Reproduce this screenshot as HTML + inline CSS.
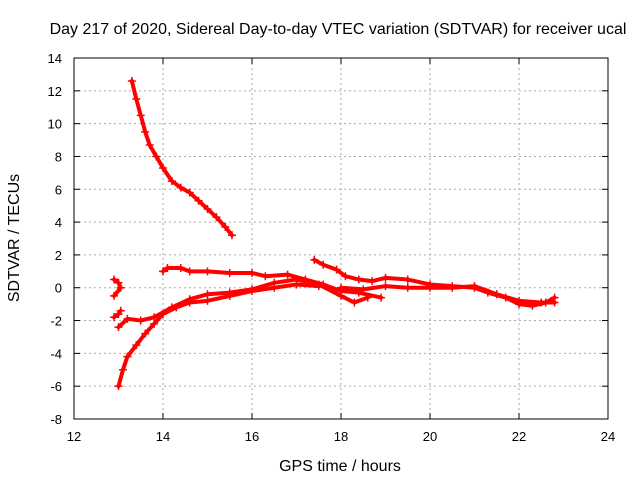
<!DOCTYPE html>
<html><head><meta charset="utf-8"><style>
body{margin:0;background:#fff}
svg text{font-family:"Liberation Sans",sans-serif;font-size:13px;fill:#000}
svg text.big{font-size:16px}
</style></head><body>
<svg id="chart" width="640" height="480">
<text class="big" x="338" y="34" text-anchor="middle">Day 217 of 2020, Sidereal Day-to-day VTEC variation (SDTVAR) for receiver ucal</text>
<text class="big" x="340" y="471" text-anchor="middle">GPS time / hours</text>
<text class="big" transform="translate(19,238) rotate(-90)" text-anchor="middle">SDTVAR / TECUs</text>
<g id="grid"></g><g id="ticks"></g><g id="series"></g>
<rect x="74" y="58" width="534" height="361" fill="none" stroke="#000"/>
</svg>
<script>
const xTicks=[12,14,16,18,20,22,24];
const yTicks=[-8,-6,-4,-2,0,2,4,6,8,10,12,14];
const trackA=[[13.3,12.6],[13.4,11.5],[13.5,10.5],[13.6,9.5],[13.7,8.7],[13.85,8],[14,7.3],[14.2,6.5],[14.4,6.1],[14.6,5.8],[14.8,5.3],[15,4.8],[15.2,4.3],[15.4,3.7],[15.55,3.2]];
const trackB=[[14,1],[14.1,1.2],[14.4,1.2],[14.6,1.0],[15,1.0],[15.5,0.9],[16,0.9],[16.3,0.7],[16.8,0.8],[17.2,0.5],[17.6,0.2],[18,-0.2],[18.4,-0.3],[18.9,-0.6]];
const trackC=[[13,-6],[13.1,-5],[13.2,-4.2],[13.4,-3.5],[13.6,-2.8],[13.8,-2.2],[14,-1.6],[14.3,-1.2],[14.6,-0.9],[15,-0.8],[15.5,-0.5],[16,-0.2],[16.5,0],[17,0.2],[17.5,0.1]];
const trackD=[[13,-2.4],[13.2,-1.9],[13.5,-2],[13.8,-1.8],[14.2,-1.2],[14.6,-0.7],[15,-0.4],[15.5,-0.3],[16,-0.1],[16.5,0.3],[17,0.5],[17.5,0.2],[18,-0.5],[18.3,-0.9],[18.6,-0.6]];
const trackE=[[17.4,1.7],[17.6,1.4],[17.9,1.1],[18.1,0.7],[18.4,0.5],[18.7,0.4],[19,0.6],[19.5,0.5],[20,0.2],[20.5,0.1],[21,0],[21.3,-0.3],[21.7,-0.6],[22,-1.0],[22.3,-1.1],[22.6,-0.9],[22.8,-0.6]];
const trackF=[[18,0.0],[18.5,-0.1],[19,0.1],[19.5,0.0],[20,0.0],[20.5,0.0],[21,0.1],[21.5,-0.4],[22,-0.8],[22.5,-0.9],[22.8,-0.9]];
const trackG=[[12.9,0.5],[13,0.3],[13.05,0.0],[12.9,-0.5]];
const trackH=[[12.9,-1.8],[13,-1.6],[13.05,-1.4]];
const tracks=[trackA,trackB,trackC,trackD,trackE,trackF,trackG,trackH];
const X=v=>74+(v-12)/12*534, Y=v=>419-(v+8)/22*361;
const NS="http://www.w3.org/2000/svg";
const g=document.getElementById('grid'),t=document.getElementById('ticks'),s=document.getElementById('series');
function mk(tag,a,p){const e=document.createElementNS(NS,tag);for(const k in a)e.setAttribute(k,a[k]);p.appendChild(e);return e;}
xTicks.forEach(v=>{const x=X(v);
 if(v>12&&v<24){const l=mk('line',{x1:x,x2:x,y1:58,y2:419,stroke:'#aaa','stroke-dasharray':'2,3'},g);
 
 }
 const tx=mk('text',{x:x,y:441,'text-anchor':'middle'},t);tx.textContent=v;
 
 
 mk('line',{x1:x,x2:x,y1:419,y2:413,stroke:'#000'},t);mk('line',{x1:x,x2:x,y1:58,y2:64,stroke:'#000'},t);});
yTicks.forEach(v=>{const y=Y(v);
 if(v>-8&&v<14){const l=mk('line',{x1:74,x2:608,y1:y,y2:y,stroke:'#aaa','stroke-dasharray':'2,3'},g);
 
 }
 const tx=mk('text',{x:62,y:y+5,'text-anchor':'end'},t);tx.textContent=v;
 
 
 mk('line',{x1:74,x2:80,y1:y,y2:y,stroke:'#000'},t);mk('line',{x1:608,x2:602,y1:y,y2:y,stroke:'#000'},t);});
tracks.forEach(tr=>{
 const pl=mk('polyline',{points:tr.map(p=>X(p[0])+','+Y(p[1])).join(' '),fill:'none',stroke:'#f00','stroke-width':4,'stroke-linejoin':'round','stroke-linecap':'round'},s);
 
 
 tr.forEach(p=>{const x=X(p[0]),y=Y(p[1]);
  const m=mk('path',{d:`M${x-4},${y}h8M${x},${y-4}v8`,stroke:'#f00','stroke-width':1.5},s);
  
  });
});
</script>
</body></html>
